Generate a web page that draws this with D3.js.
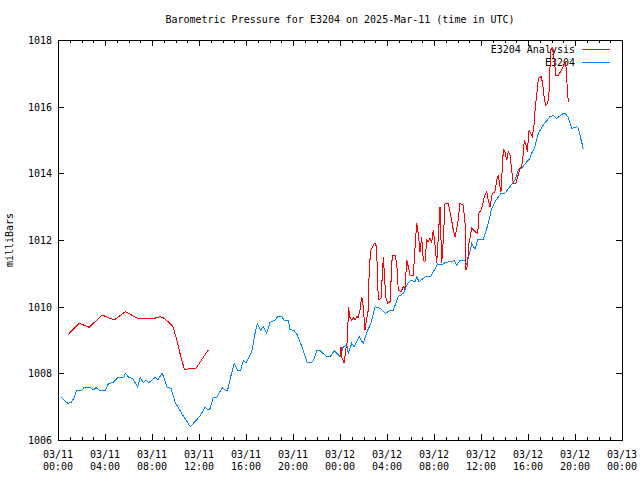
<!DOCTYPE html>
<html><head><meta charset="utf-8">
<script src="https://d3js.org/d3.v7.min.js"></script>
<style>
body{margin:0;background:#fff;}
text{font-family:"DejaVu Sans Mono",monospace;font-size:10px;fill:#000;}
</style></head>
<body><svg id="c" width="640" height="480"></svg>
<script>
const title = "Barometric Pressure for E3204 on 2025-Mar-11 (time in UTC)";
const yLabel = "milliBars";
const seriesNames = ["E3204 Analysis", "E3204"];
const seriesColors = ["#ff0000", "#0088ff"];
const yTicks = [1006, 1008, 1010, 1012, 1014, 1016, 1018];
const xTickDates = ["03/11","03/11","03/11","03/11","03/11","03/11","03/12","03/12","03/12","03/12","03/12","03/12","03/13"];
const xTickTimes = ["00:00","04:00","08:00","12:00","16:00","20:00","00:00","04:00","08:00","12:00","16:00","20:00","00:00"];

// hours since 2025-03-11 00:00 UTC
const stationHours = [0.26,0.83,1.11,1.39,1.59,2.04,2.24,2.75,3.00,3.23,3.51,4.03,4.31,4.66,5.08,5.59,5.73,6.02,6.36,6.78,7.00,7.26,7.49,7.72,8.28,8.49,8.85,9.05,9.28,9.62,9.98,10.61,10.89,11.26,12.09,12.51,12.79,12.94,13.22,13.50,13.98,14.21,14.44,14.70,15.00,15.26,15.55,15.77,16.00,16.28,16.49,16.77,16.96,17.25,17.47,17.76,18.04,18.47,18.75,19.04,19.23,19.60,19.74,20.09,20.37,20.88,21.22,21.53,21.73,22.02,22.30,22.81,23.21,23.51,24.00,24.28,24.57,24.71,25.00,25.19,25.62,25.98,26.36,26.64,26.98,27.40,27.89,28.26,28.54,28.96,29.39,29.76,30.04,30.38,30.53,30.72,31.09,31.38,31.74,32.31,32.66,32.94,33.73,33.93,34.21,34.64,34.78,35.06,35.21,35.49,35.72,36.20,36.34,36.62,36.91,37.19,37.70,38.04,38.89,39.17,39.46,39.74,40.17,40.31,40.54,40.88,41.30,41.87,42.15,42.44,43.00,43.15,43.43,43.72,44.14,44.28,44.71];
const stationValues = [1007.28,1007.10,1007.12,1007.28,1007.50,1007.50,1007.58,1007.58,1007.50,1007.57,1007.50,1007.50,1007.70,1007.72,1007.87,1007.87,1008.00,1007.88,1007.85,1007.58,1007.87,1007.72,1007.80,1007.72,1007.88,1007.80,1008.00,1007.85,1007.58,1007.55,1007.12,1006.75,1006.60,1006.40,1006.72,1006.98,1006.90,1006.95,1007.28,1007.28,1007.57,1007.50,1007.50,1007.90,1008.30,1008.10,1008.10,1008.38,1008.32,1008.50,1008.65,1009.20,1009.48,1009.30,1009.40,1009.20,1009.52,1009.60,1009.72,1009.70,1009.60,1009.58,1009.32,1009.28,1009.15,1008.68,1008.32,1008.32,1008.38,1008.68,1008.68,1008.52,1008.52,1008.68,1008.50,1008.80,1008.85,1008.60,1008.90,1008.80,1009.10,1008.90,1009.30,1009.50,1010.00,1009.95,1009.80,1009.90,1009.90,1010.30,1010.40,1010.70,1010.80,1010.75,1010.90,1010.75,1010.85,1010.92,1010.92,1011.28,1011.25,1011.32,1011.38,1011.25,1011.38,1011.38,1011.28,1011.65,1011.90,1011.72,1012.02,1012.02,1012.18,1012.50,1012.95,1013.15,1013.40,1013.40,1013.80,1014.10,1014.15,1014.28,1014.45,1014.60,1014.75,1015.20,1015.45,1015.70,1015.73,1015.65,1015.80,1015.80,1015.67,1015.35,1015.40,1015.35,1014.73];

// null marks the gap in the analysis series
const analysisHours = [0.83,1.81,2.66,3.74,4.79,5.73,6.78,8.20,8.68,9.05,9.76,10.04,10.38,10.75,11.74,12.79,
 18.0,
 24.00,24.09,24.14,24.37,24.47,24.65,24.71,24.85,25.00,25.13,25.28,25.42,25.56,25.70,25.85,25.98,26.13,26.27,26.41,26.49,26.64,26.92,27.04,27.12,27.26,27.49,27.69,27.77,27.89,28.06,28.26,28.45,28.68,28.83,28.96,29.19,29.39,29.53,29.68,29.81,29.96,30.24,30.38,30.53,30.66,30.81,30.95,31.09,31.23,31.38,31.52,31.66,31.80,31.94,32.09,32.23,32.37,32.51,32.66,32.79,32.94,33.22,33.45,33.64,33.79,34.02,34.21,34.49,34.64,34.72,34.83,34.98,35.21,35.49,35.72,35.83,36.00,36.11,36.28,36.49,36.62,36.77,36.96,37.19,37.34,37.47,37.62,37.70,37.90,38.04,38.19,38.32,38.47,38.61,38.75,38.95,39.12,39.32,39.46,39.60,39.69,39.80,39.94,40.09,40.23,40.37,40.54,40.60,40.74,40.88,41.11,41.22,41.39,41.51,41.68,41.79,41.93,42.07,42.24,42.36,42.58,42.87,43.09,43.21,43.29,43.43];
const analysisValues = [1009.15,1009.50,1009.38,1009.75,1009.60,1009.85,1009.65,1009.65,1009.70,1009.65,1009.42,1009.10,1008.60,1008.12,1008.15,1008.70,
 null,
 1008.50,1008.80,1008.50,1008.30,1008.70,1009.00,1009.98,1009.68,1009.60,1009.68,1009.60,1009.70,1009.68,1009.90,1010.30,1010.00,1009.30,1009.65,1009.90,1011.20,1011.70,1011.90,1011.90,1011.70,1010.20,1010.25,1011.50,1011.00,1010.30,1010.10,1010.15,1011.55,1011.55,1011.30,1010.50,1010.45,1010.60,1010.55,1011.40,1011.20,1010.95,1010.95,1011.75,1012.50,1012.20,1011.65,1012.10,1011.40,1011.35,1012.00,1011.95,1012.05,1011.90,1012.30,1011.85,1011.30,1012.10,1013.00,1011.30,1012.00,1013.10,1013.10,1012.70,1012.30,1012.10,1012.50,1013.10,1013.05,1012.50,1011.10,1011.20,1011.90,1012.35,1012.25,1012.20,1012.80,1012.90,1013.00,1013.30,1013.45,1013.20,1013.00,1013.40,1013.45,1013.80,1013.95,1013.60,1013.45,1014.70,1014.65,1014.40,1014.65,1014.55,1014.10,1013.70,1013.68,1013.90,1014.15,1014.20,1014.60,1015.00,1014.90,1014.65,1015.30,1015.20,1015.10,1015.50,1015.90,1016.35,1016.85,1016.90,1016.75,1016.25,1016.05,1016.10,1016.45,1017.70,1017.75,1017.40,1016.95,1016.95,1017.10,1017.30,1017.35,1016.85,1016.15];

const base = Date.UTC(2025, 2, 11);
const toDate = h => new Date(base + h * 3600e3);

const L = 58, R = 622, T = 40, B = 440;
const svg = d3.select("#c");
const x = d3.scaleUtc().domain([toDate(0), toDate(48)]).range([L, R]);
const y = d3.scaleLinear().domain([1006, 1018]).range([B, T]);

// title
svg.append("text").attr("x", 340).attr("y", 23).attr("text-anchor", "middle").text(title);
// y label
svg.append("text").attr("transform", "translate(13,240) rotate(-90)").attr("text-anchor", "middle").text(yLabel);

const axG = svg.append("g").attr("shape-rendering", "crispEdges");
const majorX = d3.utcHour.every(4).range(toDate(0), toDate(48.01));
const minorX = d3.utcHour.every(1).range(toDate(0), toDate(48.01));
axG.append("g").attr("transform", `translate(0,${B})`)
  .call(d3.axisBottom(x).tickValues(minorX).tickSize(-3).tickFormat(""));
axG.append("g").attr("transform", `translate(0,${B})`)
  .call(d3.axisBottom(x).tickValues(majorX).tickSize(-6).tickFormat(""));
axG.append("g").attr("transform", `translate(0,${T})`)
  .call(d3.axisTop(x).tickValues(minorX).tickSize(-3).tickFormat(""));
axG.append("g").attr("transform", `translate(0,${T})`)
  .call(d3.axisTop(x).tickValues(majorX).tickSize(-6).tickFormat(""));
axG.append("g").attr("transform", `translate(${L},0)`)
  .call(d3.axisLeft(y).tickValues(yTicks).tickSize(-6).tickFormat(""));
axG.append("g").attr("transform", `translate(${R},0)`)
  .call(d3.axisRight(y).tickValues(yTicks).tickSize(-6).tickFormat(""));
axG.selectAll(".domain").remove();
axG.selectAll("line").attr("stroke", "#000");
axG.append("rect").attr("x", L).attr("y", T).attr("width", R - L).attr("height", B - T)
  .attr("fill", "none").attr("stroke", "#000");

// tick labels
yTicks.forEach(v => {
  svg.append("text").attr("x", 52).attr("y", y(v) + 4).attr("text-anchor", "end").text(v);
});
majorX.forEach((d, i) => {
  svg.append("text").attr("x", x(d)).attr("y", 458).attr("text-anchor", "middle").text(xTickDates[i]);
  svg.append("text").attr("x", x(d)).attr("y", 470).attr("text-anchor", "middle").text(xTickTimes[i]);
});

// legend
seriesNames.forEach((n, i) => {
  const ly = 49 + i * 13;
  svg.append("text").attr("x", 575).attr("y", ly + 4).attr("text-anchor", "end").text(n);
  svg.append("line").attr("x1", 582).attr("x2", 610).attr("y1", ly).attr("y2", ly)
    .attr("stroke", seriesColors[i]).attr("shape-rendering", "crispEdges");
});

// lines
const line = d3.line().defined(d => d[1] !== null).x(d => x(toDate(d[0]))).y(d => y(d[1]));
const station = stationHours.map((h, i) => [h, stationValues[i]]);
const analysis = analysisHours.map((h, i) => [h, analysisValues[i]]);
svg.append("path").datum(station).attr("d", line).attr("fill", "none")
  .attr("stroke", seriesColors[1]).attr("stroke-width", 1).attr("shape-rendering", "crispEdges");
svg.append("path").datum(analysis).attr("d", line).attr("fill", "none")
  .attr("stroke", seriesColors[0]).attr("stroke-width", 1).attr("shape-rendering", "crispEdges");
</script></body></html>
